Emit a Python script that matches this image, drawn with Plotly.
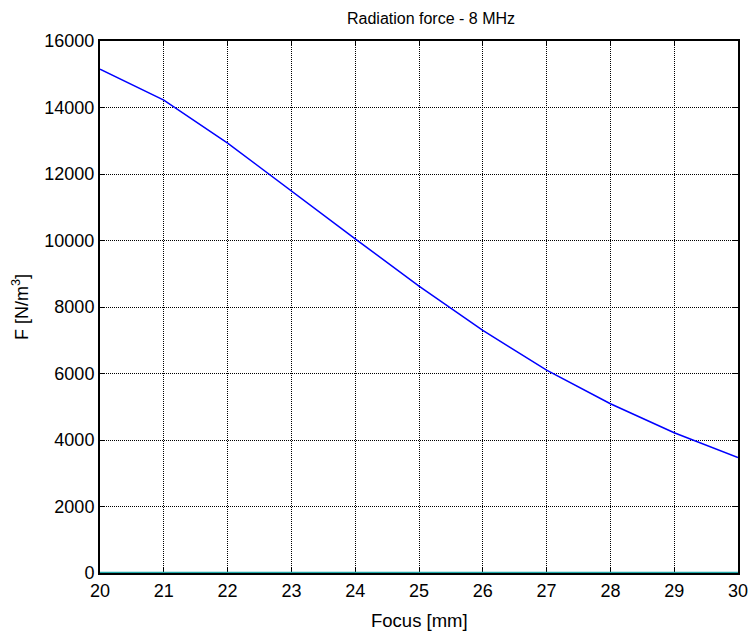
import plotly.graph_objects as go

focus_mm = [20, 21, 22, 23, 24, 25, 26, 27, 28, 29, 30]
force = [15150, 14220, 12930, 11480, 10050, 8630, 7300, 6100, 5090, 4220, 3470]
zero_line = [0] * len(focus_mm)

x_ticks = list(range(20, 31))
y_ticks = list(range(0, 16001, 2000))

font_family = "Liberation Sans, Arial, sans-serif"

fig = go.Figure()
fig.add_trace(go.Scatter(x=focus_mm, y=zero_line, mode="lines", cliponaxis=False,
                         line=dict(color="#20a8a8", width=2.5), showlegend=False))
fig.add_trace(go.Scatter(x=focus_mm, y=force, mode="lines",
                         line=dict(color="#0000ff", width=1.5), showlegend=False))

axis_common = dict(
    showline=True, linecolor="black", linewidth=2, mirror="ticks",
    ticks="inside", ticklen=5, tickcolor="black", tickwidth=1,
    showgrid=True, gridcolor="black", griddash="1px,1px", gridwidth=1,
    zeroline=False, automargin=False, layer="below traces",
    tickfont=dict(size=18, color="black", family=font_family),
)

fig.update_layout(
    width=750, height=635,
    margin=dict(l=100, r=12, t=41, b=62),
    paper_bgcolor="white", plot_bgcolor="white",
    font=dict(family=font_family, color="black"),
    title=dict(text="Radiation force - 8 MHz", x=431 / 750, xanchor="center",
               y=1 - 18 / 635, yanchor="middle", font=dict(size=16, color="black")),
    xaxis=dict(range=[20, 30], tickvals=x_ticks, ticktext=[str(v) for v in x_ticks],
               **axis_common),
    yaxis=dict(range=[0, 16000], tickvals=y_ticks, ticktext=[str(v) for v in y_ticks],
               **axis_common),
    annotations=[
        dict(text="Focus [mm]", xref="paper", yref="paper", x=0.5, y=-47 / 532,
             xanchor="center", yanchor="middle", showarrow=False,
             font=dict(size=18.5, color="black")),
        dict(text="F [N/m<sup>3</sup>]", xref="paper", yref="paper", x=-80 / 638, y=0.5,
             xanchor="center", yanchor="middle", showarrow=False, textangle=-90,
             font=dict(size=18, color="black")),
    ],
)

fig.write_html("out.html")
